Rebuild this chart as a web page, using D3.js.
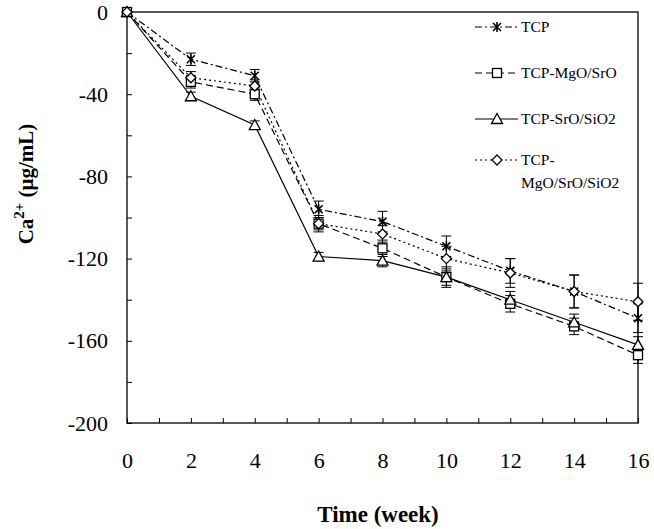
<!DOCTYPE html>
<html><head><meta charset="utf-8">
<script src="https://cdn.jsdelivr.net/npm/d3@7"></script>
<style>body{margin:0;background:#fff}svg{display:block}svg text{font-family:"Liberation Serif","Times New Roman",Times,serif;fill:#000}</style>
</head><body>
<svg id="c" width="654" height="529"></svg>
<script>
const weeks = [0, 2, 4, 6, 8, 10, 12, 14, 16];
const seriesNames = ["TCP", "TCP-MgO/SrO", "TCP-SrO/SiO2", "TCP-MgO/SrO/SiO2"];
const tcp      = [0, -23, -31, -96, -102, -114, -126, -136, -149];
const tcpErr   = [0, 3, 3, 4, 5, 5, 6, 8, 7];
const mgo      = [0, -34, -40, -103, -115, -129, -142, -153, -167];
const mgoErr   = [0, 3, 3, 3, 4, 5, 4, 4, 4];
const sro      = [0, -41, -55, -119, -121, -129, -140, -151, -162];
const sroErr   = [0, 2, 2, 2, 3, 4, 4, 4, 4];
const all      = [0, -32, -36, -103, -108, -120, -127, -136, -141];
const allErr   = [0, 3, 3, 4, 4, 6, 7, 8, 9];
const yTicks = [0, -40, -80, -120, -160, -200];
const xTicks = [0, 2, 4, 6, 8, 10, 12, 14, 16];

const FF = '"Liberation Serif","Times New Roman",Times,serif';
const svg = d3.select("#c");
const L = 127, R = 638, T = 12, B = 423;
const x = d3.scaleLinear().domain([0, 16]).range([L, R]);
const y = d3.scaleLinear().domain([-200, 0]).range([B, T]);

svg.append("rect").attr("x", L).attr("y", T).attr("width", R - L).attr("height", B - T)
  .attr("fill", "none").attr("stroke", "#000").attr("stroke-width", 1.3);

const yAx = d3.axisLeft(y).tickValues(d3.range(-200, 1, 20)).tickSize(-5)
  .tickFormat(d => yTicks.includes(d) ? d : "");
const gy = svg.append("g").attr("transform", `translate(${L},0)`).call(yAx)
  .attr("font-family", FF).attr("font-size", 22);
gy.select(".domain").remove();
gy.selectAll("line").attr("stroke", "#000").attr("stroke-width", 1);
gy.selectAll("text").attr("x", -19);

const xAx = d3.axisBottom(x).tickValues(d3.range(0, 17, 1)).tickSize(-5)
  .tickFormat(d => xTicks.includes(d) ? d : "");
const gx = svg.append("g").attr("transform", `translate(0,${B})`).call(xAx)
  .attr("font-family", FF).attr("font-size", 22);
gx.select(".domain").remove();
gx.selectAll("line").attr("stroke", "#000").attr("stroke-width", 1);
gx.selectAll("text").attr("y", 29.5);

svg.append("text").attr("x", 378).attr("y", 522).attr("text-anchor", "middle")
  .attr("font-family", FF).attr("font-size", 23).attr("font-weight", "bold").text("Time (week)");
const yl = svg.append("text").attr("transform", "translate(33,184) rotate(-90)")
  .attr("text-anchor", "middle").attr("font-family", FF).attr("font-size", 21).attr("font-weight", "bold");
yl.append("tspan").text("Ca");
yl.append("tspan").attr("dy", -9).attr("font-size", 15).text("2+");
yl.append("tspan").attr("dy", 9).text(" (\u03bcg/mL)");

const series = [
  {name: seriesNames[0], v: tcp, e: tcpErr, dash: "7,3,2,3", m: "star"},
  {name: seriesNames[1], v: mgo, e: mgoErr, dash: "7,4", m: "square"},
  {name: seriesNames[2], v: sro, e: sroErr, dash: null, m: "triangle"},
  {name: seriesNames[3], v: all, e: allErr, dash: "2,3", m: "diamond"}
];

function marker(g, type, cx, cy) {
  if (type === "star") {
    const s = 4;
    g.append("path").attr("d", `M${cx-s},${cy-s}L${cx+s},${cy+s}M${cx-s},${cy+s}L${cx+s},${cy-s}M${cx},${cy-s-1}L${cx},${cy+s+1}`)
      .attr("stroke", "#000").attr("stroke-width", 1.6).attr("fill", "none");
  } else if (type === "square") {
    g.append("rect").attr("x", cx - 4.5).attr("y", cy - 4.5).attr("width", 9).attr("height", 9)
      .attr("fill", "#fff").attr("stroke", "#000").attr("stroke-width", 1.3);
  } else if (type === "triangle") {
    g.append("path").attr("d", `M${cx},${cy-5.5}L${cx+5.5},${cy+4.5}L${cx-5.5},${cy+4.5}Z`)
      .attr("fill", "#fff").attr("stroke", "#000").attr("stroke-width", 1.3);
  } else {
    g.append("path").attr("d", `M${cx},${cy-5}L${cx+5},${cy}L${cx},${cy+5}L${cx-5},${cy}Z`)
      .attr("fill", "#fff").attr("stroke", "#000").attr("stroke-width", 1.3);
  }
}

const line = d3.line().x((d, i) => x(weeks[i])).y(d => y(d));
const plot = svg.append("g");
series.forEach(s => {
  s.v.forEach((v, i) => {
    if (!s.e[i]) return;
    const cx = x(weeks[i]);
    const g = plot.append("g").attr("stroke", "#000").attr("stroke-width", 1);
    g.append("line").attr("x1", cx).attr("x2", cx).attr("y1", y(v + s.e[i])).attr("y2", y(v - s.e[i]));
    g.append("line").attr("x1", cx - 5).attr("x2", cx + 5).attr("y1", y(v + s.e[i])).attr("y2", y(v + s.e[i]));
    g.append("line").attr("x1", cx - 5).attr("x2", cx + 5).attr("y1", y(v - s.e[i])).attr("y2", y(v - s.e[i]));
  });
});
series.forEach(s => {
  plot.append("path").datum(s.v).attr("d", line).attr("fill", "none").attr("stroke", "#000")
    .attr("stroke-width", 1.2).attr("stroke-dasharray", s.dash);
});
series.forEach(s => {
  s.v.forEach((v, i) => marker(plot, s.m, x(weeks[i]), y(v)));
});

const legY = [27, 73, 119, 160];
series.forEach((s, k) => {
  const g = svg.append("g");
  const yy = legY[k];
  g.append("line").attr("x1", 475).attr("x2", 518).attr("y1", yy).attr("y2", yy)
    .attr("stroke", "#000").attr("stroke-width", 1.2).attr("stroke-dasharray", s.dash);
  marker(g, s.m, 497, yy);
  const t = g.append("text").attr("x", 521).attr("y", yy + 5).attr("font-family", FF).attr("font-size", 15.5);
  if (k === 3) {
    t.text("TCP-");
    g.append("text").attr("x", 521).attr("y", yy + 28).attr("font-family", FF).attr("font-size", 15.5).text("MgO/SrO/SiO2");
  } else t.text(s.name);
});
</script>
</body></html>
